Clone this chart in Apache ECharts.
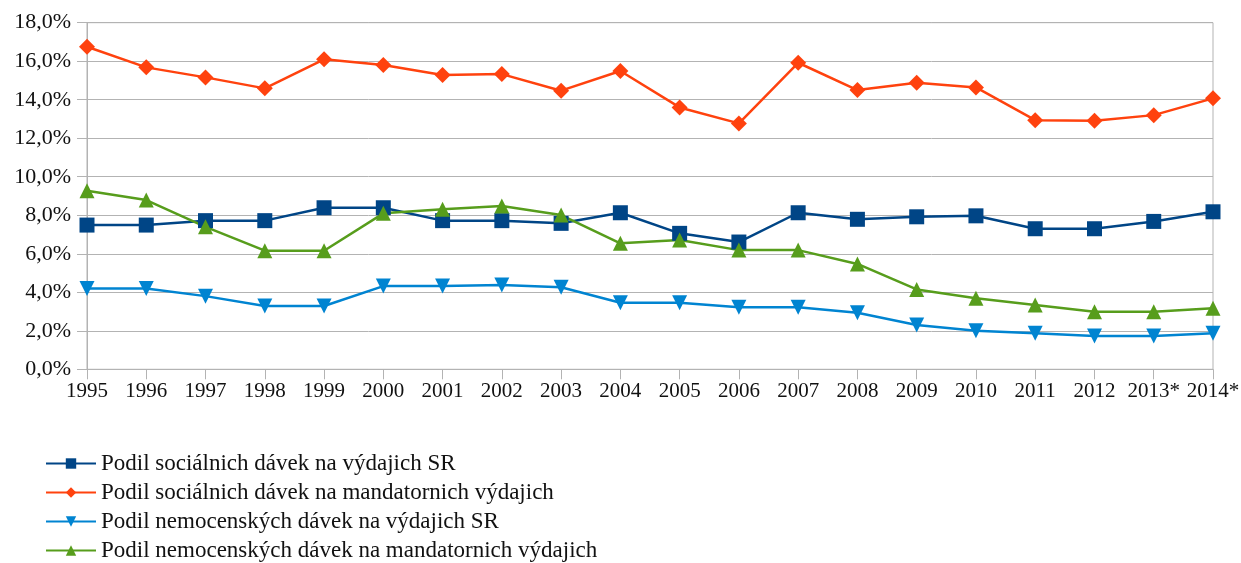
<!DOCTYPE html>
<html>
<head>
    <meta charset="utf-8">
    <title>Podil dávek</title>
    <style>
        html, body { margin: 0; padding: 0; background: #fff; }
        #chart { width: 1241px; height: 563px; }
    </style>
</head>
<body>
    <div id="chart"></div>
    <script src="https://cdn.jsdelivr.net/npm/echarts@6/dist/echarts.min.js"></script>
    <script>
        var years = ['1995', '1996', '1997', '1998', '1999', '2000', '2001', '2002', '2003', '2004',
                     '2005', '2006', '2007', '2008', '2009', '2010', '2011', '2012', '2013*', '2014*'];
        var socialSR = [7.49, 7.49, 7.72, 7.72, 8.39, 8.39, 7.72, 7.72, 7.58, 8.13,
                        7.06, 6.61, 8.13, 7.79, 7.92, 7.97, 7.30, 7.30, 7.68, 8.18];
        var socialMand = [16.75, 15.68, 15.16, 14.59, 16.10, 15.80, 15.28, 15.33, 14.47, 15.49,
                          13.60, 12.77, 15.92, 14.50, 14.88, 14.64, 12.94, 12.91, 13.20, 14.07];
        var sickSR = [4.20, 4.20, 3.80, 3.29, 3.29, 4.32, 4.32, 4.38, 4.26, 3.46,
                      3.46, 3.22, 3.22, 2.94, 2.30, 2.00, 1.87, 1.73, 1.73, 1.87];
        var sickMand = [9.27, 8.79, 7.40, 6.16, 6.16, 8.10, 8.31, 8.48, 8.01, 6.54,
                        6.71, 6.19, 6.19, 5.47, 4.15, 3.69, 3.34, 2.99, 2.99, 3.17];
        var names = ['Podil sociálnich dávek na výdajich SR',
                     'Podil sociálnich dávek na mandatornich výdajich',
                     'Podil nemocenských dávek na výdajich SR',
                     'Podil nemocenských dávek na mandatornich výdajich'];

        var font = '"Liberation Serif", "DejaVu Serif", serif';
        var gridGray = '#b3b3b3';

        function mkSeries(name, data, color, symbol, size, rotate) {
            return {
                name: name,
                type: 'line',
                data: data,
                symbol: symbol,
                symbolSize: size,
                symbolRotate: rotate || 0,
                showAllSymbol: true,
                lineStyle: { color: color, width: 2.5 },
                itemStyle: { color: color },
                emphasis: { disabled: true }
            };
        }

        var myChart = echarts.init(document.getElementById('chart'));
        var option = {
            animation: false,
            backgroundColor: '#fff',
            grid: {
                left: 87, right: 28, top: 22.7, bottom: 193.7,
                outerBoundsMode: 'none',
                show: true, borderColor: gridGray, borderWidth: 1
            },
            legend: {
                orient: 'vertical',
                left: 45,
                top: 452,
                padding: 0,
                itemGap: 6,
                itemWidth: 50,
                itemHeight: 13,
                data: names,
                textStyle: { fontFamily: font, fontSize: 23, color: '#111' }
            },
            xAxis: {
                type: 'category',
                data: years,
                boundaryGap: false,
                axisLine: { lineStyle: { color: gridGray } },
                axisTick: { show: true, length: 10, interval: 0, lineStyle: { color: gridGray } },
                axisLabel: { fontFamily: font, fontSize: 21, color: '#111', margin: 12, interval: 0 },
                splitLine: { show: false }
            },
            yAxis: {
                type: 'value',
                min: 0,
                max: 18,
                interval: 2,
                axisLine: { show: true, lineStyle: { color: gridGray } },
                axisTick: { show: true, length: 10, lineStyle: { color: gridGray } },
                axisLabel: {
                    fontFamily: font, fontSize: 22, color: '#111', margin: 16,
                    formatter: function (v) { return v.toFixed(1).replace('.', ',') + '%'; }
                },
                splitLine: { show: true, lineStyle: { color: gridGray } }
            },
            series: [
                mkSeries(names[0], socialSR, '#004586', 'rect', 15),
                mkSeries(names[1], socialMand, '#ff420e', 'diamond', 16),
                mkSeries(names[2], sickSR, '#0084d1', 'triangle', 15, 180),
                mkSeries(names[3], sickMand, '#579d1c', 'triangle', 15)
            ]
        };
        myChart.setOption(option);
    </script>
</body>
</html>
